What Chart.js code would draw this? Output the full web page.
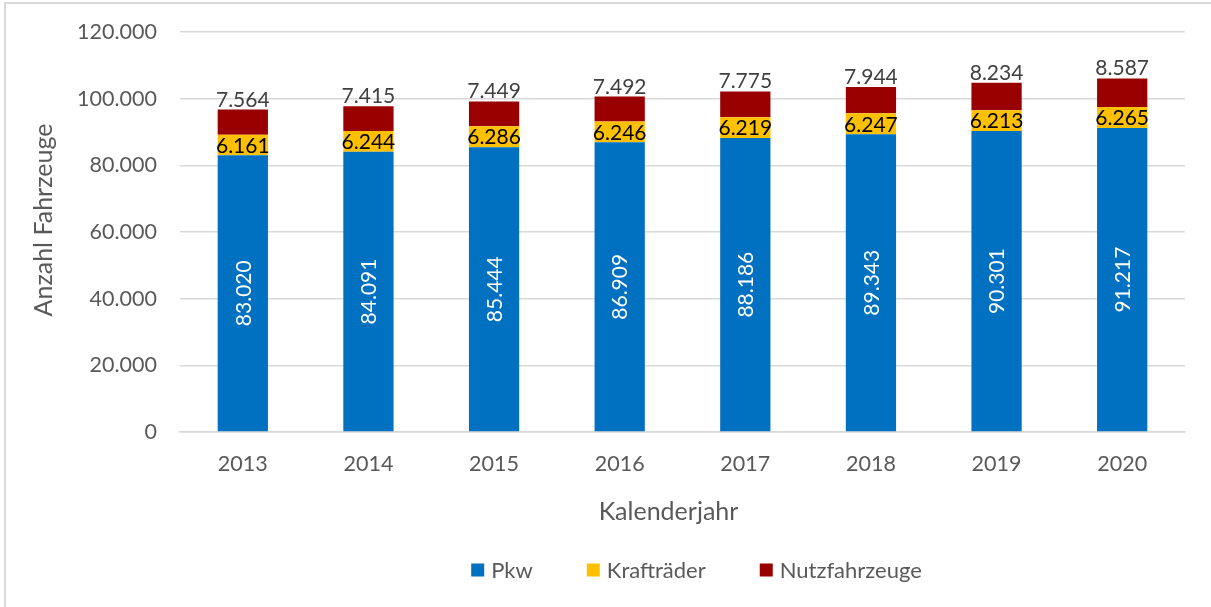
<!DOCTYPE html>
<html>
<head>
<meta charset="utf-8">
<script src="https://cdn.jsdelivr.net/npm/chart.js@4/dist/chart.umd.min.js"></script>
<style>
  html, body { margin: 0; padding: 0; background: #fff; overflow: hidden; }
  #wrap { position: absolute; left: 0; top: 0; width: 1211px; height: 607px; }
  #frame { position: absolute; left: 4px; top: 2px; width: 1230px; height: 640px; border: 2px solid #d9d9d9; box-sizing: border-box; pointer-events: none; }
</style>
</head>
<body>
<div id="wrap">
  <canvas id="c" width="1211" height="607"></canvas>
  <div id="frame"></div>
</div>
<script>
const categories = ['2013', '2014', '2015', '2016', '2017', '2018', '2019', '2020'];
const pkw = [83020, 84091, 85444, 86909, 88186, 89343, 90301, 91217];
const kraftraeder = [6161, 6244, 6286, 6246, 6219, 6247, 6213, 6265];
const nutzfahrzeuge = [7564, 7415, 7449, 7492, 7775, 7944, 8234, 8587];
const seriesNames = ['Pkw', 'Krafträder', 'Nutzfahrzeuge'];
const yTicks = [0, 20000, 40000, 60000, 80000, 100000, 120000];
const xTitle = 'Kalenderjahr';
const yTitle = 'Anzahl Fahrzeuge';

const FONT = 'Lato';
const GREY = '#595959';

function fmt(v) {
  return String(Math.round(v)).replace(/\B(?=(\d{3})+(?!\d))/g, '.');
}

const labelPlugin = {
  id: 'labels',
  afterDatasetsDraw(chart) {
    const ctx = chart.ctx;
    ctx.save();
    ctx.font = '21px ' + FONT;
    ctx.textAlign = 'center';
    chart.data.datasets.forEach((ds, di) => {
      const meta = chart.getDatasetMeta(di);
      meta.data.forEach((el, i) => {
        const v = ds.data[i];
        const txt = fmt(v);
        const top = el.y, base = el.base, x = el.x;
        if (di === 0) {
          ctx.save();
          ctx.translate(x, (top + base) / 2);
          ctx.rotate(-Math.PI / 2);
          ctx.fillStyle = '#ffffff';
          ctx.textBaseline = 'middle';
          ctx.fillText(txt, 0, 1);
          ctx.restore();
        } else if (di === 1) {
          ctx.fillStyle = '#000000';
          ctx.textBaseline = 'middle';
          ctx.fillText(txt, x, (top + base) / 2 + 1);
        } else {
          ctx.fillStyle = '#404040';
          ctx.textBaseline = 'alphabetic';
          ctx.fillText(txt, x, top - 3);
        }
      });
    });
    ctx.restore();
  }
};

const legendPlugin = {
  id: 'customLegend',
  afterDraw(chart) {
    const ctx = chart.ctx;
    ctx.save();
    // axis titles
    ctx.fillStyle = GREY;
    ctx.font = '25px ' + FONT;
    ctx.textAlign = 'center';
    ctx.textBaseline = 'middle';
    ctx.fillText(xTitle, 668.5, 512);
    ctx.save();
    ctx.translate(44, 220);
    ctx.rotate(-Math.PI / 2);
    ctx.fillText(yTitle, 0, 0);
    ctx.restore();
    // legend
    ctx.font = '22px ' + FONT;
    const box = 13, gapText = 20, gapItem = 54;
    const items = chart.data.datasets.map(ds => ({ label: ds.label, color: ds.backgroundColor, w: ctx.measureText(ds.label).width }));
    let total = 0;
    items.forEach((it, i) => { total += gapText + it.w + (i < items.length - 1 ? gapItem : 0); });
    let x = 696.5 - total / 2;
    const cy = 570;
    items.forEach(it => {
      ctx.fillStyle = it.color;
      ctx.fillRect(x, cy - box / 2, box, box);
      ctx.fillStyle = GREY;
      ctx.textBaseline = 'middle';
      ctx.textAlign = 'left';
      ctx.fillText(it.label, x + gapText, cy + 1);
      x += gapText + it.w + gapItem;
    });
    ctx.restore();
  }
};

new Chart(document.getElementById('c'), {
  type: 'bar',
  data: {
    labels: categories,
    datasets: [
      { label: seriesNames[0], data: pkw, backgroundColor: '#0070C0' },
      { label: seriesNames[1], data: kraftraeder, backgroundColor: '#FFC000' },
      { label: seriesNames[2], data: nutzfahrzeuge, backgroundColor: '#990000' }
    ]
  },
  options: {
    responsive: false,
    animation: false,
    devicePixelRatio: 1,
    layout: { padding: { left: 26, right: 26, top: 32, bottom: 0 } },
    datasets: { bar: { categoryPercentage: 1.0, barPercentage: 0.4 } },
    plugins: { legend: { display: false }, tooltip: { enabled: false } },
    scales: {
      x: {
        stacked: true,
        grid: { display: false, drawTicks: false },
        border: { display: true, color: '#d9d9d9', width: 1.5 },
        ticks: { color: GREY, font: { family: FONT, size: 21.5 }, padding: 19 },
        afterFit(scale) { scale.height = 175; scale.paddingLeft = 0; scale.paddingRight = 0; scale.paddingTop = 0; scale.paddingBottom = 0; }
      },
      y: {
        stacked: true,
        min: 0, max: 120000,
        afterBuildTicks(scale) { scale.ticks = yTicks.map(v => ({ value: v })); },
        grid: { color: '#d9d9d9', lineWidth: 1.5, drawTicks: false },
        border: { display: false },
        ticks: { color: GREY, font: { family: FONT, size: 21.5 }, padding: 23, callback: v => fmt(v) },
        afterFit(scale) { scale.width = 180 - 26; scale.paddingTop = 0; scale.paddingBottom = 0; scale.paddingLeft = 0; scale.paddingRight = 0; }
      }
    }
  },
  plugins: [labelPlugin, legendPlugin]
});
</script>
</body>
</html>
